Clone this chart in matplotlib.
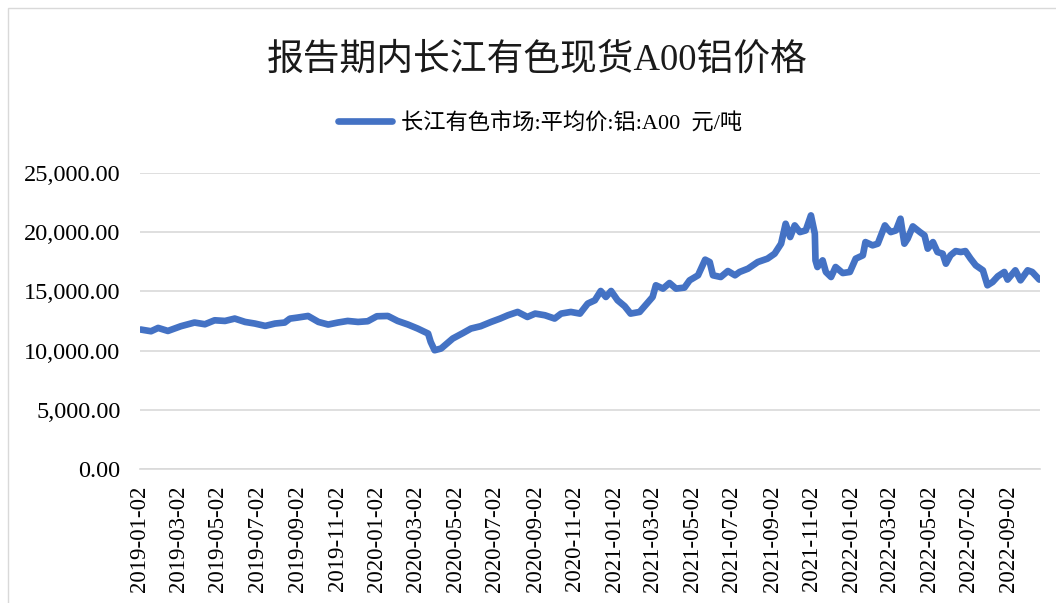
# 报告期内长江有色现货A00铝价格 - line chart
import pandas as pd
import matplotlib
matplotlib.use("Agg")
import matplotlib.pyplot as plt
import matplotlib.dates as mdates
from matplotlib.ticker import FuncFormatter
from matplotlib.patches import Rectangle

# data
dates = [
    "2019-01-03", "2019-01-19", "2019-01-30", "2019-02-14", "2019-03-06", "2019-03-27",
    "2019-04-12", "2019-04-27", "2019-05-13", "2019-05-28", "2019-06-13", "2019-06-28",
    "2019-07-14", "2019-07-29", "2019-08-13", "2019-08-21", "2019-09-02", "2019-09-18",
    "2019-10-04", "2019-10-19", "2019-11-03", "2019-11-18", "2019-12-04", "2019-12-19",
    "2020-01-02", "2020-01-19", "2020-02-03", "2020-02-19", "2020-03-05", "2020-03-21",
    "2020-03-25", "2020-03-31", "2020-04-10", "2020-04-28", "2020-05-14", "2020-05-26",
    "2020-06-10", "2020-06-26", "2020-07-10", "2020-07-22", "2020-08-06", "2020-08-21",
    "2020-09-02", "2020-09-17", "2020-10-02", "2020-10-12", "2020-10-27", "2020-11-10",
    "2020-11-22", "2020-12-03", "2020-12-12", "2020-12-20", "2020-12-28", "2021-01-07",
    "2021-01-18", "2021-01-27", "2021-02-10", "2021-02-19", "2021-03-02", "2021-03-07",
    "2021-03-18", "2021-03-28", "2021-04-07", "2021-04-20", "2021-04-28", "2021-05-11",
    "2021-05-22", "2021-05-29", "2021-06-03", "2021-06-15", "2021-06-26", "2021-07-07",
    "2021-07-14", "2021-07-27", "2021-08-11", "2021-08-26", "2021-09-06", "2021-09-16",
    "2021-09-23", "2021-09-30", "2021-10-07", "2021-10-15", "2021-10-24", "2021-11-01",
    "2021-11-07", "2021-11-08", "2021-11-11", "2021-11-19", "2021-11-24", "2021-12-02",
    "2021-12-09", "2021-12-20", "2021-12-31", "2022-01-09", "2022-01-20", "2022-01-24",
    "2022-02-04", "2022-02-12", "2022-02-23", "2022-02-27", "2022-03-04", "2022-03-12",
    "2022-03-19", "2022-03-25", "2022-03-30", "2022-04-07", "2022-04-18", "2022-04-25",
    "2022-04-30", "2022-05-08", "2022-05-15", "2022-05-23", "2022-05-28", "2022-06-04",
    "2022-06-12", "2022-06-20", "2022-06-27", "2022-07-05", "2022-07-13", "2022-07-24",
    "2022-07-31", "2022-08-08", "2022-08-16", "2022-08-26", "2022-08-31", "2022-09-12",
    "2022-09-20", "2022-10-01", "2022-10-08", "2022-10-19",
]
prices = [
    11780, 11635, 11915, 11660, 12060, 12370,
    12225, 12560, 12505, 12705, 12420, 12285,
    12085, 12285, 12370, 12700, 12790, 12925,
    12420, 12200, 12370, 12505, 12420, 12480,
    12900, 12925, 12505, 12200, 11860, 11440,
    10730, 10030, 10175, 11020, 11490, 11860,
    12060, 12420, 12705, 12985, 13265, 12840,
    13125, 12985, 12705, 13125, 13265, 13125,
    13970, 14250, 15035, 14530, 15035, 14250,
    13745, 13125, 13265, 13830, 14530, 15515,
    15235, 15710, 15235, 15320, 15935, 16360,
    17680, 17480, 16360, 16215, 16720, 16360,
    16640, 16920, 17480, 17765, 18185, 19030,
    20715, 19590, 20575, 20010, 20150, 21420,
    19875, 17620, 17060, 17620, 16640, 16215,
    17060, 16550, 16640, 17765, 18045, 19165,
    18890, 19030, 20575, 20295, 20010, 20150,
    21140, 19030, 19450, 20490, 20010, 19730,
    18610, 19165, 18325, 18185, 17340, 18045,
    18405, 18325, 18405, 17765, 17200, 16780,
    15515, 15795, 16275, 16640, 15995, 16780,
    15935, 16780, 16640, 15995,
]
title = "报告期内长江有色现货A00铝价格"
series_name = "长江有色市场:平均价:铝:A00  元/吨"
yticks = [0, 5000, 10000, 15000, 20000, 25000]

df = pd.DataFrame({"date": pd.to_datetime(dates), "price": prices})
tick_dates = pd.date_range("2019-01-01", "2022-09-01", freq="2MS") + pd.Timedelta(days=1)

fonts = ["Liberation Serif", "Noto Sans CJK SC"]
plt.rcParams["font.family"] = fonts

fig = plt.figure(figsize=(10.56, 6.03), dpi=100)
# chart area border
fig.patches.append(Rectangle((8 / 1056, -0.1), 1.2, 1 - 8 / 603 + 0.1,
                             transform=fig.transFigure, fill=False,
                             edgecolor="#D9D9D9", linewidth=1))

ax = fig.add_axes([140 / 1056, 134 / 603, 900 / 1056, 296 / 603])
line, = ax.plot(df["date"], df["price"], color="#4472C4", linewidth=4.8,
                solid_joinstyle="round", solid_capstyle="round",
                label=series_name)

ax.set_ylim(0, 25000)
ax.set_yticks(yticks)
ax.yaxis.set_major_formatter(FuncFormatter(lambda v, p: f"{v:,.2f}"))
ax.set_xlim(pd.Timestamp("2019-01-02"), pd.Timestamp("2022-10-20"))
ax.set_xticks(tick_dates)
ax.xaxis.set_major_formatter(mdates.DateFormatter("%Y-%m-%d"))
ax.tick_params(axis="x", length=0, pad=12, labelsize=16.5, rotation=90)
ax.tick_params(axis="y", length=0, pad=14, labelsize=17.5)
for lbl in ax.get_xticklabels() + ax.get_yticklabels():
    lbl.set_family(fonts)

ax.grid(axis="y", color="#D9D9D9", linewidth=1.2)
ax.set_axisbelow(True)
for s in ["top", "right", "left"]:
    ax.spines[s].set_visible(False)
ax.spines["bottom"].set_color("#D9D9D9")
ax.spines["bottom"].set_linewidth(1.2)

fig.text(537 / 1056, 1 - 60 / 603, title, ha="center", va="center",
         fontsize=26.5, family=fonts, color="#1a1a1a")
fig.legend(handles=[line], loc="center", bbox_to_anchor=(540 / 1056, 1 - 123 / 603),
           frameon=False, handlelength=2.4, handletextpad=0.4,
           prop={"family": fonts, "size": 16})

fig.savefig("out.png", dpi=100, facecolor="white")
